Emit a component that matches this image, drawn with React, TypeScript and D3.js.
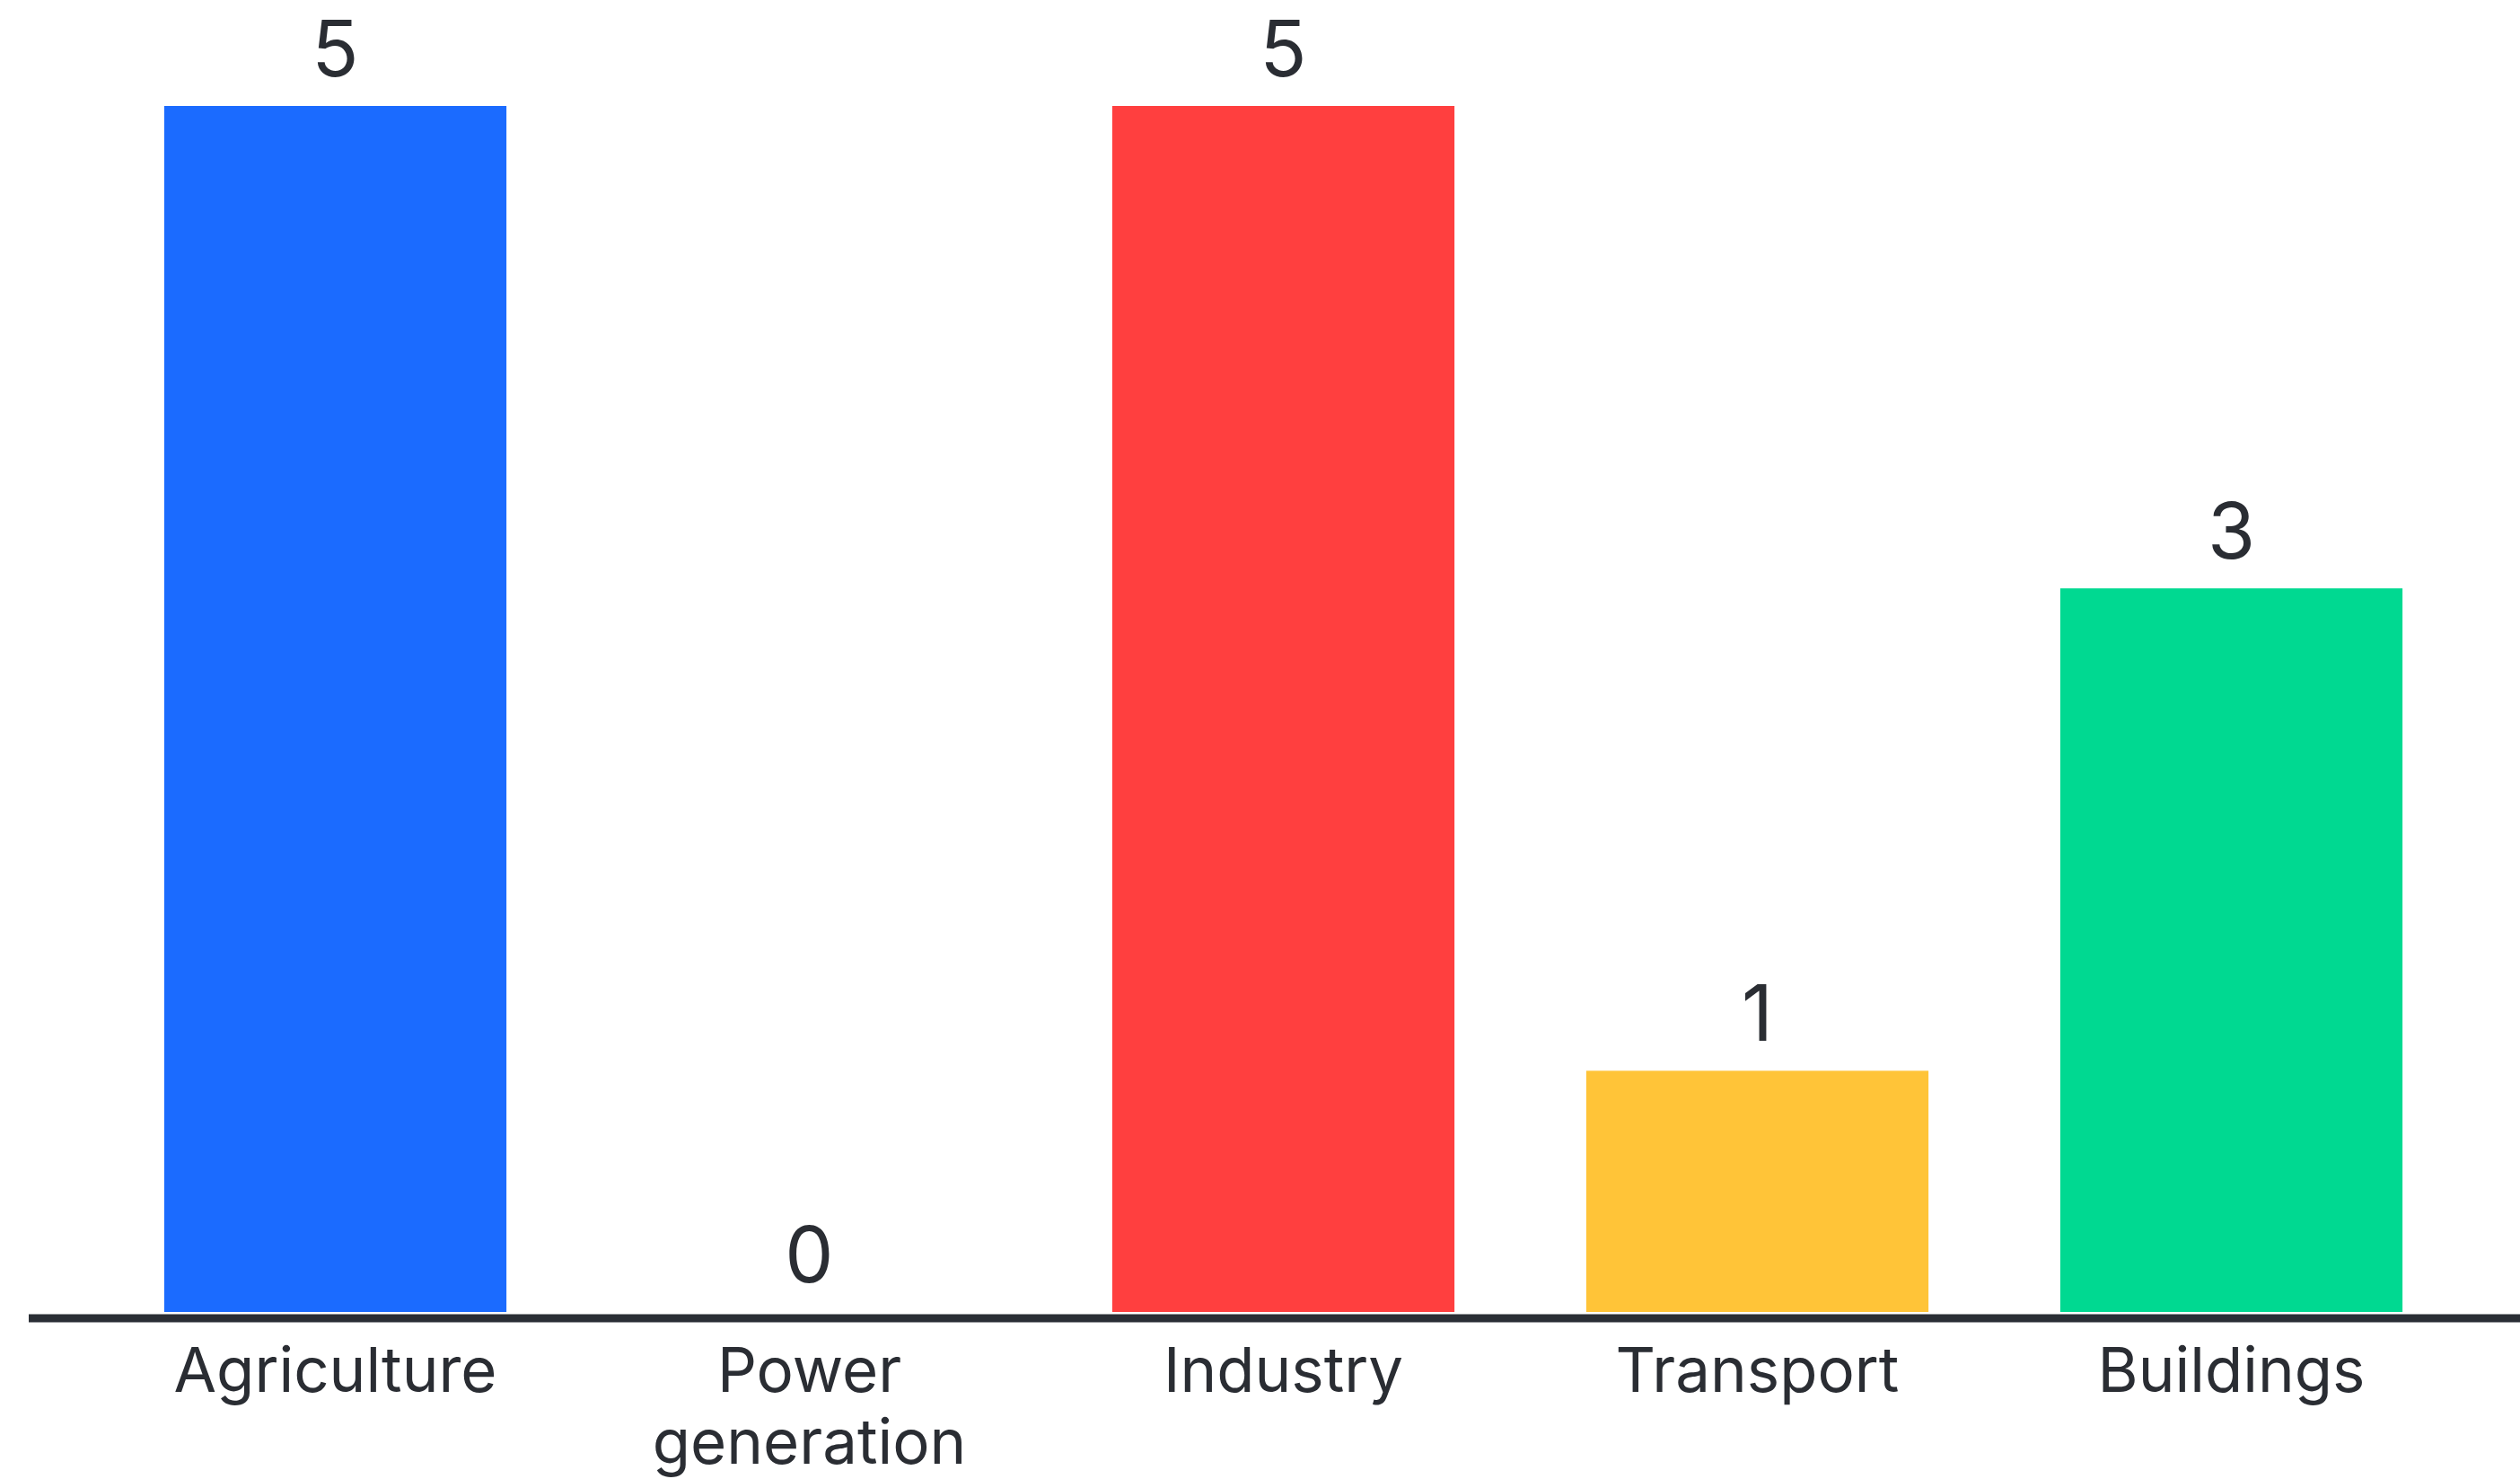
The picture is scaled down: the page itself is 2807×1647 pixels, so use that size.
import React from "react";
import * as d3 from "d3";

const categories = ["Agriculture", "Power\ngeneration", "Industry", "Transport", "Buildings"];
const values = [5, 0, 5, 1, 3];
const colors = ["#1b6bff", "#ff3f3f", "#ff3f3f", "#ffc438", "#00d991"];

const W = 2807;
const H = 1647;

export default function App() {
  const x = d3.scaleBand<string>().domain(categories).range([109.5, 2749.5]).paddingInner(0.278).paddingOuter(0.139);
  const y = d3.scaleLinear().domain([0, 5]).range([1461, 118]);
  const font = "Inter, 'Noto Sans', sans-serif";
  const textColor = "#2a2d33";
  return (
    <svg width={W} height={H} style={{ position: "absolute", left: 0, top: 0, background: "#fff" }}>
      <rect x={0} y={0} width={W} height={H} fill="#fff" />
      {categories.map((c, i) => (
        <g key={c}>
          <rect x={x(c)!} y={y(values[i])} width={x.bandwidth()} height={y(0) - y(values[i])} fill={colors[i]} />
          <text
            x={x(c)! + x.bandwidth() / 2}
            y={y(values[i]) - 33}
            textAnchor="middle"
            fontFamily={font}
            fontSize={86}
            fill={textColor}
          >
            {values[i]}
          </text>
          {c.split("\n").map((line, j) => (
            <text
              key={j}
              x={x(c)! + x.bandwidth() / 2}
              y={1550 + j * 80}
              textAnchor="middle"
              fontFamily={font}
              fontSize={69}
              fill={textColor}
            >
              {line}
            </text>
          ))}
        </g>
      ))}
      <line x1={32} x2={W} y1={y(0) + 7} y2={y(0) + 7} stroke="#2a2e35" strokeWidth={9} />
    </svg>
  );
}
